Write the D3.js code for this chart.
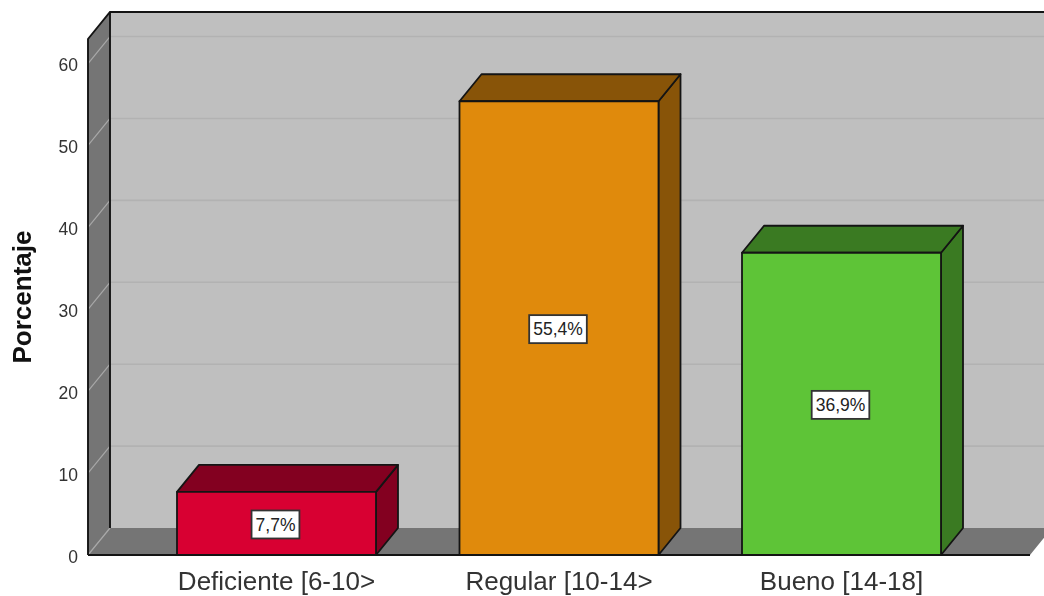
<!DOCTYPE html>
<html>
<head>
<meta charset="utf-8">
<script src="https://cdn.jsdelivr.net/npm/d3@7"></script>
<style>
  html, body { margin: 0; padding: 0; background: #fff; overflow: hidden; }
  text { font-family: "Liberation Sans", Arial, sans-serif; fill: #222; }
  #chart { filter: blur(0.45px); }
</style>
</head>
<body>
<svg id="chart" width="1044" height="596"></svg>
<script>
var categories = ["Deficiente [6-10>", "Regular [10-14>", "Bueno [14-18]"]
var porcentajes = [7.7, 55.4, 36.9]
var etiquetas = ["7,7%", "55,4%", "36,9%"]
var y_ticks = [0, 10, 20, 30, 40, 50, 60]
var y_max = 63
var front_colors = ["#d80032", "#e08a0c", "#5ec437"]
var top_colors = ["#830020", "#885408", "#3a7a22"]
var side_colors = ["#830020", "#885408", "#3a7a22"]

var margin = { left: 88, right: 14, top: 39, bottom: 41 }
var depth = { x: 22, y: 27 }
var width = 1044, height = 596
var x0 = margin.left, x1 = width - margin.right
var y0 = height - margin.bottom

var svg = d3.select("#chart")
var x = d3.scaleBand().domain(categories).range([x0, x1]).paddingInner(0.2956).paddingOuter(0.315)
var y = d3.scaleLinear().domain([0, y_max]).range([y0, margin.top])

var line = d3.line()
var stroke_dark = "#141414"

// back wall
svg.append("path")
    .attr("d", line([[x0 + depth.x, y(y_max) - depth.y], [x1 + depth.x, y(y_max) - depth.y], [x1 + depth.x, y0 - depth.y], [x0 + depth.x, y0 - depth.y]]) + "Z")
    .attr("fill", "#bfbfbf")

// left wall
svg.append("path")
    .attr("d", line([[x0, y(y_max)], [x0 + depth.x, y(y_max) - depth.y], [x0 + depth.x, y0 - depth.y], [x0, y0]]) + "Z")
    .attr("fill", "#757575")

// floor
svg.append("path")
    .attr("d", line([[x0, y0], [x0 + depth.x, y0 - depth.y], [x1 + depth.x, y0 - depth.y], [x1, y0]]) + "Z")
    .attr("fill", "#757575")

// grid lines
y_ticks.forEach(function (t) {
    if (t > 0) {
        svg.append("line")
            .attr("x1", x0 + depth.x).attr("x2", x1 + depth.x)
            .attr("y1", y(t) - depth.y).attr("y2", y(t) - depth.y)
            .attr("stroke", "#b2b2b2").attr("stroke-width", 1.6)
    }
    svg.append("line")
        .attr("x1", x0).attr("x2", x0 + depth.x)
        .attr("y1", y(t)).attr("y2", y(t) - depth.y)
        .attr("stroke", "#a8a8a8").attr("stroke-width", 1.2)
})

// frame
svg.append("path")
    .attr("d", line([[x0, y0], [x0, y(y_max)], [x0 + depth.x, y(y_max) - depth.y], [x1 + depth.x, y(y_max) - depth.y]]))
    .attr("fill", "none").attr("stroke", stroke_dark).attr("stroke-width", 1.9)
svg.append("line")
    .attr("x1", x0 + depth.x).attr("x2", x0 + depth.x)
    .attr("y1", y(y_max) - depth.y).attr("y2", y0 - depth.y)
    .attr("stroke", stroke_dark).attr("stroke-width", 1.9)
svg.append("line")
    .attr("x1", x0).attr("x2", x1)
    .attr("y1", y0).attr("y2", y0)
    .attr("stroke", stroke_dark).attr("stroke-width", 1.9)

// bars
categories.forEach(function (c, i) {
    var left = x(c), right = x(c) + x.bandwidth(), top = y(porcentajes[i])
    var g = svg.append("g").attr("stroke", stroke_dark).attr("stroke-width", 1.8).attr("stroke-linejoin", "round")
    g.append("path")
        .attr("d", line([[right, y0], [right + depth.x, y0 - depth.y], [right + depth.x, top - depth.y], [right, top]]) + "Z")
        .attr("fill", side_colors[i])
    g.append("path")
        .attr("d", line([[left, top], [left + depth.x, top - depth.y], [right + depth.x, top - depth.y], [right, top]]) + "Z")
        .attr("fill", top_colors[i])
    g.append("rect")
        .attr("x", left).attr("y", top)
        .attr("width", x.bandwidth()).attr("height", y0 - top)
        .attr("fill", front_colors[i])

    // value label
    var cx = left + x.bandwidth() / 2 - 1, cy = (top + y0) / 2 + 1
    var box = svg.append("g").attr("transform", "translate(" + cx + "," + cy + ")")
    var txt = box.append("text")
        .attr("text-anchor", "middle").attr("dy", "0.36em")
        .attr("font-size", 17.5).text(etiquetas[i])
    var w = txt.node().getComputedTextLength() + 8
    box.insert("rect", "text")
        .attr("x", -w / 2).attr("y", -14).attr("width", w).attr("height", 28)
        .attr("fill", "#fff").attr("stroke", "#333").attr("stroke-width", 1.8)
})

// axes
var y_axis = d3.axisLeft(y).tickValues(y_ticks).tickSize(0).tickPadding(10)
var gy = svg.append("g").attr("transform", "translate(" + x0 + ",1.5)").call(y_axis)
gy.select(".domain").remove()
gy.selectAll("text").attr("font-size", 17.5).style("font-family", "Liberation Sans").style("fill", "#333")

var x_axis = d3.axisBottom(x).tickSize(0).tickPadding(17)
var gx = svg.append("g").attr("transform", "translate(0," + y0 + ")").call(x_axis)
gx.select(".domain").remove()
gx.selectAll("text").attr("font-size", 26).style("font-family", "Liberation Sans").style("fill", "#333")

svg.append("text")
    .attr("transform", "translate(31,297) rotate(-90)")
    .attr("text-anchor", "middle")
    .attr("font-size", 26).attr("font-weight", "bold")
    .style("fill", "#111")
    .text("Porcentaje")
</script>
</body>
</html>
